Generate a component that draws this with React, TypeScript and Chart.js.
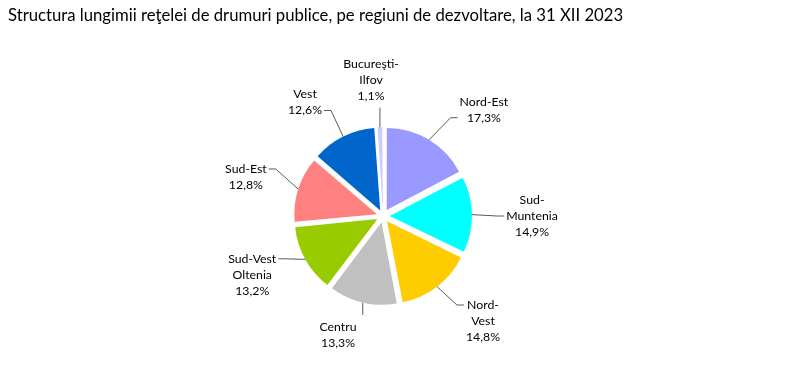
import React, { useEffect, useRef } from "react";
import { Chart, registerables } from "chart.js";

Chart.register(...registerables);

const TITLE =
  "Structura lungimii reţelei de drumuri publice, pe regiuni de dezvoltare, la 31 XII 2023";

const regions = [
  "Nord-Est",
  "Sud-Muntenia",
  "Nord-Vest",
  "Centru",
  "Sud-Vest Oltenia",
  "Sud-Est",
  "Vest",
  "Bucureşti-Ilfov",
];
const shares = [17.3, 14.9, 14.8, 13.3, 13.2, 12.8, 12.6, 1.1];
const labelLines = [
  ["Nord-Est"],
  ["Sud-", "Muntenia"],
  ["Nord-", "Vest"],
  ["Centru"],
  ["Sud-Vest", "Oltenia"],
  ["Sud-Est"],
  ["Vest"],
  ["Bucureşti-", "Ilfov"],
];
const colors = [
  "#9999FF",
  "#00FFFF",
  "#FFCC00",
  "#C0C0C0",
  "#99CC00",
  "#FF8080",
  "#0066CC",
  "#CCCCFF",
];

// label layout: direction (deg clockwise from top) and distance (x radius) of each label block centre
const labelAngle = [43.5, 90, 136.4, 200.7, 245.8, 285.9, 325.5, 355];
const labelDist = [1.81, 1.84, 1.79, 1.57, 1.77, 1.76, 1.7, 1.69];

const EXPLODE = 8;
const FONT = "Lato";
const LABEL_SIZE = 12.3;
const LINE_H = 16;

const total = shares.reduce((a, b) => a + b, 0);
const fmt = (v: number) => v.toFixed(1).replace(".", ",") + "%";

const labelsPlugin = {
  id: "pieLabels",
  afterDatasetsDraw(chart: any) {
    const ctx = chart.ctx as CanvasRenderingContext2D;
    const meta = chart.getDatasetMeta(0);
    ctx.save();
    ctx.font = `${LABEL_SIZE}px ${FONT}`;
    ctx.textAlign = "center";
    ctx.textBaseline = "middle";
    meta.data.forEach((arc: any, i: number) => {
      const { x, y, startAngle, endAngle, outerRadius } = arc.getProps(
        ["x", "y", "startAngle", "endAngle", "outerRadius"],
        true
      );
      const mid = (startAngle + endAngle) / 2;
      const circ = endAngle - startAngle;
      const off =
        ((arc.options.offset || 0) / 4) *
        (2 - Math.sin(Math.min(Math.PI, circ)));
      const px = x + Math.cos(mid) * (off + outerRadius);
      const py = y + Math.sin(mid) * (off + outerRadius);

      const lines = [...labelLines[i], fmt(shares[i])];
      const a = (labelAngle[i] * Math.PI) / 180;
      const cx = x + Math.sin(a) * labelDist[i] * outerRadius;
      const cy = y - Math.cos(a) * labelDist[i] * outerRadius;
      const maxW = Math.max(...lines.map((t) => ctx.measureText(t).width));
      const top = cy - (lines.length * LINE_H) / 2;
      const bottom = cy + (lines.length * LINE_H) / 2;
      const left = cx - maxW / 2;
      const right = cx + maxW / 2;

      ctx.strokeStyle = "#595959";
      ctx.lineWidth = 1;
      ctx.beginPath();
      ctx.moveTo(px, py);
      if (px > left - 10 && px < right + 10) {
        const ty = py < top ? top - 4 : bottom + 4;
        ctx.lineTo(px, ty);
      } else if (px > right) {
        // label on the left of the pie: attach to an upper line
        const k =
          py < top
            ? 0
            : Math.min(lines.length - 1, Math.floor((py - top) / (LINE_H * 2)));
        const ly = top + LINE_H * (k + 0.5);
        const ex = right + 2;
        ctx.lineTo(ex + 7, ly);
        ctx.lineTo(ex, ly);
      } else {
        // label on the right of the pie: attach to the nearest line
        let k = 0;
        let best = Infinity;
        lines.forEach((_, j) => {
          const d = Math.abs(top + LINE_H * (j + 0.5) - py);
          if (d < best) {
            best = d;
            k = j;
          }
        });
        const ly = top + LINE_H * (k + 0.5);
        const ex = left - 2;
        ctx.lineTo(ex - 7, ly);
        ctx.lineTo(ex, ly);
      }
      ctx.stroke();

      ctx.fillStyle = "#000";
      lines.forEach((t, j) => ctx.fillText(t, cx, top + LINE_H * (j + 0.5)));
    });
    ctx.restore();
  },
};

export default function App() {
  const ref = useRef<HTMLCanvasElement | null>(null);
  useEffect(() => {
    if (!ref.current) return;
    const chart = new Chart(ref.current, {
      type: "pie",
      data: {
        labels: regions,
        datasets: [
          {
            data: shares,
            backgroundColor: colors,
            borderWidth: 0,
            radius: 81,
            offset: (c: any) => {
              const v = shares[c.dataIndex];
              const circ = (v / total) * Math.PI * 2;
              const fix = 1 - Math.sin(Math.min(Math.PI, circ));
              return (EXPLODE * 4) / (1 + fix);
            },
          } as any,
        ],
      },
      options: {
        responsive: false,
        animation: false,
        layout: { padding: { left: 8, right: 34, top: 0, bottom: 0 } },
        plugins: {
          legend: { display: false },
          tooltip: { enabled: false },
          title: {
            display: true,
            text: TITLE,
            align: "start",
            color: "#000",
            font: { family: FONT, size: 16.7, weight: "normal", lineHeight: 1.2 },
            padding: { top: 6, bottom: 27 },
          },
        },
      },
      plugins: [labelsPlugin],
    });
    return () => chart.destroy();
  }, []);
  return (
    <div
      style={{
        position: "fixed",
        left: 0,
        top: 0,
        width: 792,
        height: 379,
        background: "#fff",
      }}
    >
      <canvas ref={ref} width={792} height={379} />
    </div>
  );
}
